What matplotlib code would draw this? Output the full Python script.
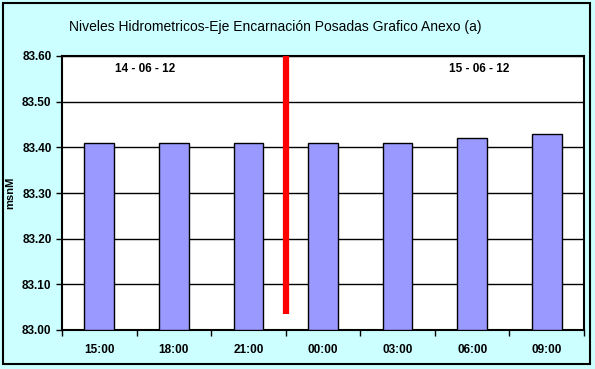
import matplotlib.pyplot as plt
from matplotlib.patches import Rectangle

horas = ["15:00", "18:00", "21:00", "00:00", "03:00", "06:00", "09:00"]
niveles = [83.41, 83.41, 83.41, 83.41, 83.41, 83.42, 83.43]
fechas = ["14 - 06 - 12", "15 - 06 - 12"]
fecha_x = [0.61, 5.09]
corte_x = 2.5
corte_y = [83.035, 83.60]

plt.rcParams['font.family'] = ['Liberation Sans', 'DejaVu Sans']

fig = plt.figure(figsize=(5.95, 3.69), dpi=100)
fig.patch.set_facecolor('#CCFFFF')
ax = fig.add_axes([62 / 595, 39 / 369, 522 / 595, 274 / 369])
ax.set_facecolor('white')

x = range(len(horas))
ax.bar(x, [v - 83.0 for v in niveles], bottom=83.0, width=0.4,
       color='#9999FF', edgecolor='black', linewidth=1, zorder=3)

# linea de cambio de dia
ax.plot([corte_x, corte_x], corte_y, color='red', linewidth=4.5,
        solid_capstyle='butt', zorder=4)

for t, xx in zip(fechas, fecha_x):
    ax.text(xx, 83.572, t, ha='center', va='center', fontsize=8.5,
            fontweight='bold', zorder=5)

ax.set_xlim(-0.5, len(horas) - 0.5)
ax.set_ylim(83.0, 83.6)
ax.set_yticks([83.0 + 0.1 * i for i in range(7)])
ax.set_yticklabels(["%.2f" % (83.0 + 0.1 * i) for i in range(7)],
                   fontsize=8.5, fontweight='bold')
ax.yaxis.grid(True, color='black', linewidth=1)
ax.set_axisbelow(True)

ax.set_xticks(list(x))
ax.set_xticklabels(horas, fontsize=8.5, fontweight='bold')
ax.tick_params(axis='x', which='major', length=0, pad=10)
ax.set_xticks([i - 0.5 for i in range(len(horas) + 1)], minor=True)
ax.tick_params(axis='x', which='minor', length=4, width=1, direction='out')
ax.tick_params(axis='y', length=4, width=1, direction='out')

for s in ax.spines.values():
    s.set_linewidth(1.5)

ax.set_ylabel("msnM", fontsize=8, fontweight='bold', labelpad=5)

fig.text(275 / 595, 1 - 27 / 369,
         "Niveles Hidrometricos-Eje Encarnación Posadas Grafico Anexo (a)",
         ha='center', va='center', fontsize=10)

fig.patches.append(Rectangle((3 / 595, 5 / 369), 587 / 595, 361 / 369,
                             transform=fig.transFigure, fill=False,
                             edgecolor='black', linewidth=1.5))

plt.savefig('out.png', dpi=100, facecolor=fig.get_facecolor())
